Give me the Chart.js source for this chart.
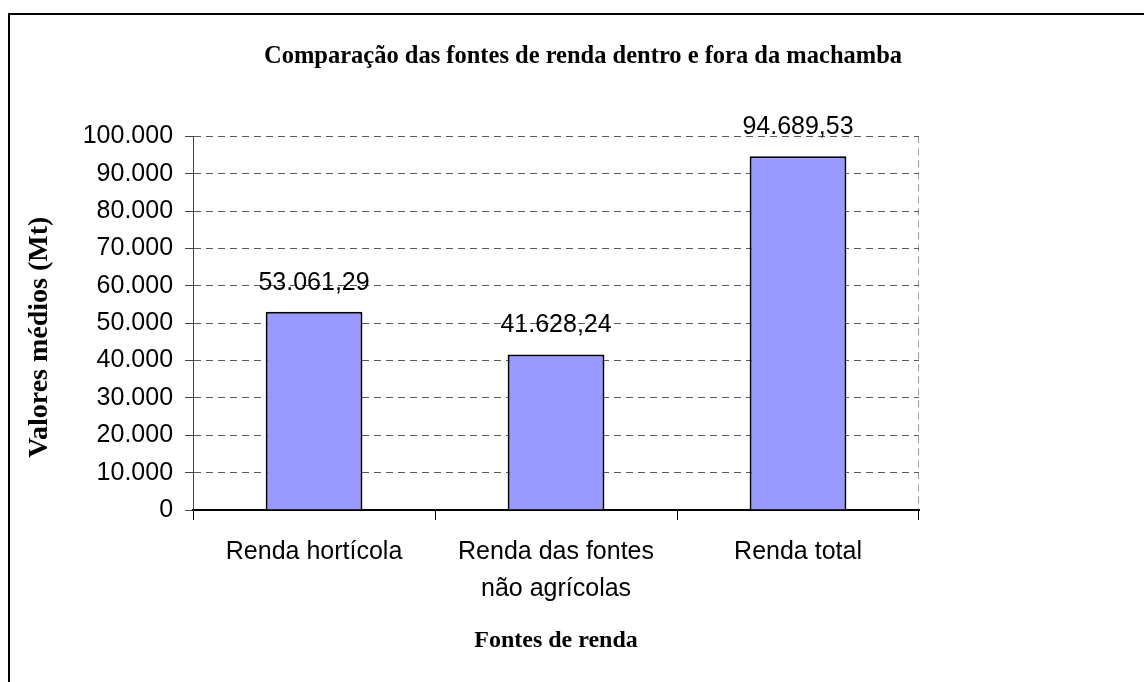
<!DOCTYPE html>
<html><head><meta charset="utf-8">
<script src="https://cdn.jsdelivr.net/npm/chart.js@4/dist/chart.umd.min.js"></script>
<style>
html,body{margin:0;padding:0;background:#fff;overflow:hidden;width:1144px;height:682px}
#frame{position:absolute;left:8px;top:13px;width:1140px;height:672px;border-left:2px solid #000;border-top:2px solid #000;}
#wrap{position:absolute;left:10px;top:15px;width:1134px;height:667px}
</style></head><body>
<div id="frame"></div>
<div id="wrap"><canvas id="c"></canvas></div>
<script>
const categories = [["Renda hortícola"], ["Renda das fontes", "não agrícolas"], ["Renda total"]];
const values = [53061.29, 41628.24, 94689.53];
const yMin = 0, yMax = 100000, yStep = 10000;
const chartTitle = "Comparação das fontes de renda dentro e fora da machamba";
const xTitle = "Fontes de renda";
const yTitle = "Valores médios (Mt)";

function fmtThousands(n){ return String(Math.round(n)).replace(/\B(?=(\d{3})+(?!\d))/g, '.'); }
function fmtValue(v){ const p = v.toFixed(2).split('.'); return fmtThousands(+p[0]) + ',' + p[1]; }

const SANS = '"Liberation Sans", Arial, sans-serif';
const SERIF = '"Liberation Serif", "Times New Roman", serif';

const valueLabels = {
  id: 'valueLabels',
  afterDatasetsDraw(chart){
    const ctx = chart.ctx;
    const meta = chart.getDatasetMeta(0);
    ctx.save();
    ctx.font = '25px ' + SANS;
    ctx.fillStyle = '#000';
    ctx.textAlign = 'center';
    ctx.textBaseline = 'alphabetic';
    meta.data.forEach((bar, i) => {
      ctx.fillText(fmtValue(values[i]), bar.x, bar.y - 22);
    });
    ctx.restore();
  }
};

new Chart(document.getElementById('c'), {
  type: 'bar',
  data: {
    labels: categories,
    datasets: [{
      data: values,
      backgroundColor: '#9999FF',
      borderColor: '#000',
      borderWidth: 2,
      barPercentage: 0.4,
      categoryPercentage: 1.0
    }]
  },
  options: {
    responsive: true,
    maintainAspectRatio: false,
    animation: false,
    devicePixelRatio: 1,
    layout: { padding: { left: 12, right: 0, top: 0, bottom: 0 } },
    plugins: {
      legend: { display: false },
      tooltip: { enabled: false },
      title: {
        display: true,
        text: chartTitle,
        color: '#000',
        font: { family: SERIF, size: 24.5, weight: 'bold', lineHeight: 1.2 },
        padding: { top: 27.3, bottom: 64.6 }
      }
    },
    scales: {
      x: {
        grid: {
          display: true,
          drawOnChartArea: true,
          offset: true,
          color: c => (c.type === 'tick' ? 'rgba(0,0,0,0)' : '#9a9a9a'),
          lineWidth: 1,
          drawTicks: true,
          tickLength: 10,
          tickColor: '#000',
          tickWidth: 1,
          tickBorderDash: []
        },
        border: { display: true, color: '#000', width: 2, dash: [7, 5] },
        ticks: {
          color: '#000',
          font: { family: SANS, size: 25, lineHeight: 1.5 },
          padding: 13,
          maxRotation: 0,
          minRotation: 0,
          autoSkip: false
        },
        title: {
          display: true,
          text: xTitle,
          color: '#000',
          font: { family: SERIF, size: 24, weight: 'bold', lineHeight: 1.2 },
          padding: { top: 5.6, bottom: 26.6 }
        }
      },
      y: {
        min: yMin,
        max: yMax,
        grid: {
          color: '#5a5a5a',
          lineWidth: 1,
          drawTicks: true,
          tickLength: 8,
          tickColor: '#444',
          tickWidth: 1,
          tickBorderDash: []
        },
        border: { display: true, color: '#444', width: 1, dash: [7, 5] },
        ticks: {
          stepSize: yStep,
          color: '#000',
          font: { family: SANS, size: 25, lineHeight: 1.2 },
          padding: 12,
          callback: v => fmtThousands(v)
        },
        title: {
          display: true,
          text: yTitle + '    ',
          color: '#000',
          font: { family: SERIF, size: 28, weight: 'bold', lineHeight: 1.2 },
          padding: { top: 0.8, bottom: 14.3 }
        }
      },
      y2: {
        position: 'right',
        display: true,
        min: yMin,
        max: yMax,
        grid: { display: false, drawTicks: false },
        ticks: { display: false },
        border: { display: false },
        afterFit(s){ s.width = 225; }
      }
    }
  },
  plugins: [valueLabels]
});
</script>
</body></html>
